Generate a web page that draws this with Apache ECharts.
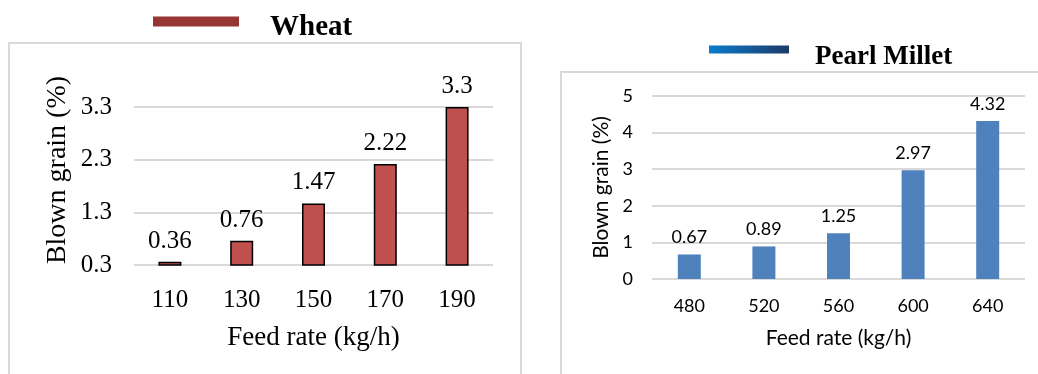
<!DOCTYPE html>
<html>
<head>
<meta charset="utf-8">
<script src="https://cdn.jsdelivr.net/npm/echarts@6/dist/echarts.min.js"></script>
<style>
  html, body { margin: 0; padding: 0; background: #ffffff; }
  #chart { width: 1038px; height: 374px; }
</style>
</head>
<body>
<div id="chart"></div>
<script>
// Wheat panel
const wheatFeed = ['110', '130', '150', '170', '190'];
const wheatBlown = [0.36, 0.76, 1.47, 2.22, 3.3];
// Pearl millet panel
const milletFeed = ['480', '520', '560', '600', '640'];
const milletBlown = [0.67, 0.89, 1.25, 2.97, 4.32];

const serif = 'Liberation Serif, Times New Roman, serif';
const sans = 'Lato, Carlito, Calibri, sans-serif';
const gridGray = '#d9d9d9';

// Legend swatches: a flat bar sitting in the upper part of the item box,
// so the label text hangs a little below the swatch's centre line.
const wheatSwatch = 'path://M0,0H86V10H0Z M0,22H0.01';
const milletSwatch = 'path://M0,0H80V8H0Z M0,24H0.01';

const chart = echarts.init(document.getElementById('chart'), null, { renderer: 'canvas' });

chart.setOption({
  animation: false,
  backgroundColor: '#ffffff',
  graphic: [
    { type: 'rect', shape: { x: 9, y: 43, width: 512, height: 340 }, style: { fill: 'none', stroke: gridGray, lineWidth: 2 }, z: -1 },
    { type: 'rect', shape: { x: 561, y: 72, width: 490, height: 320 }, style: { fill: 'none', stroke: gridGray, lineWidth: 2 }, z: -1 }
  ],
  legend: [
    {
      data: [{ name: 'Wheat', icon: wheatSwatch, itemStyle: { color: '#963634', borderWidth: 0 } }],
      left: 153, top: 13, padding: 0,
      itemWidth: 86, itemHeight: 22, symbolKeepAspect: false,
      selectedMode: false,
      textStyle: { fontFamily: serif, fontWeight: 'bold', fontSize: 29, color: '#000', padding: [0, 0, 0, 26] }
    },
    {
      data: [{
        name: 'Pearl Millet',
        icon: milletSwatch,
        itemStyle: {
          borderWidth: 0,
          color: new echarts.graphic.LinearGradient(0, 0, 1, 0, [
            { offset: 0, color: '#0a7ccd' },
            { offset: 1, color: '#1d3a66' }
          ])
        }
      }],
      left: 709, top: 44, padding: 0,
      itemWidth: 80, itemHeight: 24, symbolKeepAspect: false,
      selectedMode: false,
      textStyle: { fontFamily: serif, fontWeight: 'bold', fontSize: 27, color: '#000', padding: [0, 0, 0, 21] }
    }
  ],
  grid: [
    { left: 134, width: 359, top: 107, height: 158 },
    { left: 652, width: 373, top: 96, height: 183 }
  ],
  xAxis: [
    {
      gridIndex: 0, type: 'category', data: wheatFeed,
      axisLine: { show: false }, axisTick: { show: false },
      axisLabel: { fontFamily: serif, fontSize: 25, color: '#000', margin: 23 },
      name: 'Feed rate (kg/h)', nameLocation: 'middle', nameGap: 59,
      nameTextStyle: { fontFamily: serif, fontSize: 27, color: '#000' }
    },
    {
      gridIndex: 1, type: 'category', data: milletFeed,
      axisLine: { show: false }, axisTick: { show: false },
      axisLabel: { fontFamily: sans, fontSize: 18, color: '#000', margin: 18 },
      name: 'Feed rate (kg/h)', nameLocation: 'middle', nameGap: 49,
      nameTextStyle: { fontFamily: sans, fontSize: 21, color: '#000' }
    }
  ],
  yAxis: [
    {
      gridIndex: 0, type: 'value', min: 0.3, max: 3.3, interval: 1,
      axisLine: { show: false }, axisTick: { show: false },
      splitLine: { lineStyle: { color: gridGray, width: 2 } },
      axisLabel: { fontFamily: serif, fontSize: 25, color: '#000', margin: 22, formatter: v => v.toFixed(1) },
      name: 'Blown grain (%)', nameLocation: 'middle', nameGap: 62,
      nameTextStyle: { fontFamily: serif, fontSize: 28, color: '#000', padding: [0, 0, 0, 32] }
    },
    {
      gridIndex: 1, type: 'value', min: 0, max: 5, interval: 1,
      axisLine: { show: false }, axisTick: { show: false },
      splitLine: { lineStyle: { color: gridGray, width: 2 } },
      axisLabel: { fontFamily: sans, fontSize: 18, color: '#000', margin: 19 },
      name: 'Blown grain (%)', nameLocation: 'middle', nameGap: 40,
      nameTextStyle: { fontFamily: sans, fontSize: 21, color: '#000' }
    }
  ],
  series: [
    {
      name: 'Wheat', type: 'bar', xAxisIndex: 0, yAxisIndex: 0,
      data: wheatBlown, barWidth: 23,
      itemStyle: { color: '#c0504d', borderColor: '#000', borderWidth: 1.5 },
      label: { show: true, position: 'top', distance: 8, fontFamily: serif, fontSize: 25, color: '#000' }
    },
    {
      name: 'Pearl Millet', type: 'bar', xAxisIndex: 1, yAxisIndex: 1,
      data: milletBlown, barWidth: 23,
      itemStyle: { color: '#4f81bd' },
      label: { show: true, position: 'top', distance: 8, fontFamily: sans, fontSize: 18, color: '#000' }
    }
  ]
});
</script>
</body>
</html>
